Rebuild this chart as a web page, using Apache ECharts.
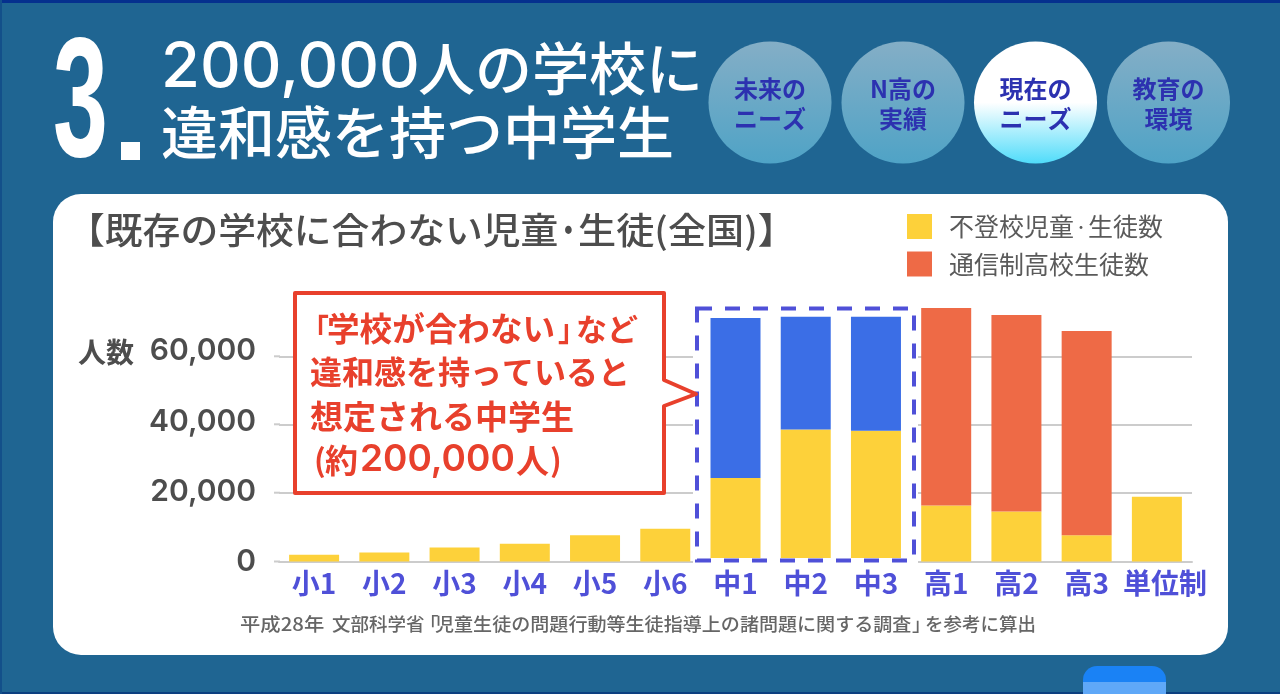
<!DOCTYPE html>
<html><head><meta charset="utf-8">
<script src="https://cdn.jsdelivr.net/npm/echarts@6/dist/echarts.min.js"></script>
<style>html,body{margin:0;padding:0;background:#1f6592;overflow:hidden}#c{width:1280px;height:694px}</style>
</head><body><div id="c"></div>
<script>
const categories=['小1','小2','小3','小4','小5','小6','中1','中2','中3','高1','高2','高3','単位制'];
const absentees=[1950,2630,4100,5170,7700,9560,24400,38600,38200,16400,14600,7700,18950];
const juniorHigh=[null,null,null,null,null,null,46800,33000,33400,null,null,null,null];
const correspondence=[null,null,null,null,null,null,null,null,null,57700,57500,59700,null];
const yTicks=[0,20000,40000,60000];

const JP='"Noto Sans CJK JP"';
const t=(text,x,y,size,fill,weight,sx,family,align)=>({type:'text',z:20,x,y,scaleX:sx||1,silent:true,
  style:{text,fill,font:`${weight||400} ${size}px ${family||JP}`,textAlign:align||'left',textVerticalAlign:'middle'}});
const rect=(x,y,w,h,fill,r,z)=>({type:'rect',z:z==null?20:z,silent:true,shape:{x,y,width:w,height:h,r:r||0},style:{fill}});
const grad=(a,b,mid)=>({type:'linear',x:0,y:0,x2:0,y2:1,colorStops:mid?[{offset:0,color:a},{offset:.5,color:a},{offset:1,color:b}]:[{offset:0,color:a},{offset:1,color:b}]});
const circle=(cx,fill,l1,l2)=>[
  {type:'ellipse',z:20,silent:true,shape:{cx,cy:102.5,rx:61.5,ry:61},style:{fill}},
  t(l1,cx,89,24,'#2c31b0',700,1,JP,'center'),t(l2,cx,119,24,'#2c31b0',700,1,JP,'center')];
const RED='#e8402c',BLUEPUR='#4f50d8',GRAY='#4d4d4d',NOTE='#666666';
const graphic=[
  rect(0,0,1280,3,'#05308e',0,-20),rect(0,692,1280,2,'#0c3f80',0,-20),rect(0,0,2,694,'#13508a',0,-20),
  rect(53,194,1175,461,'#ffffff',28,-10),
  rect(1083,666,83,28,'#1a82f5',[14,14,0,0],-5),rect(1083,682,83,12,'#5fa8f8',0,-5),
  t('3',53,109.5,170,'#ffffff',700,.58,'"Liberation Sans"'),
  rect(121,142,19,18,'#ffffff'),
  t('200,000',161,68,62,'#ffffff',500,1.02,'Inter'),
  t('人の学校に',418,68,57,'#ffffff',500),
  t('違和感を持つ中学生',161,132,57,'#ffffff',500),
  ...circle(770,grad('#84aec6','#4fa3c6'),'未来の','ニーズ'),
  ...circle(903,grad('#84aec6','#4fa3c6'),'N高の','実績'),
  ...circle(1035.5,grad('#ffffff','#50dcfa',true),'現在の','ニーズ'),
  ...circle(1168.5,grad('#84aec6','#4fa3c6'),'教育の','環境'),
  t('【既存の学校に合わない児童',67,230,36,GRAY,500,1.05),
  t('・',554,230,36,GRAY,500,.8),
  t('生徒(全国)】',578,230,36,GRAY,500,1.06),
  t('人数',78,352,28,GRAY,700),
  t('平成28年',240,624,18.5,NOTE,500,1.1),
  t('文部科学省',332,624,18.5,NOTE,500),
  t('「',420,624,18.5,NOTE,500),
  t('児童生徒の問題行動等生徒指導上の諸問題に関する調査',435,624,18.5,NOTE,500,1.03),
  t('」',912,624,18.5,NOTE,500),
  t('を参考に算出',925,624,18.5,NOTE,500),
  ...[356.3,424.3,492.7,561.5].map(y=>({type:'line',z:0,silent:true,shape:{x1:274,y1:y,x2:280,y2:y},style:{stroke:'#cccccc',lineWidth:2}})),
  // dashed emphasis box
  {type:'rect',z:1,silent:true,shape:{x:693,y:304,width:225,height:261},style:{fill:'#ffffff'}},
  {type:'rect',z:15,silent:true,shape:{x:697,y:308.5,width:217,height:252},style:{fill:'none',stroke:'#ffffff',lineWidth:5}},
  {type:'rect',z:16,silent:true,shape:{x:697,y:308.5,width:217,height:252},style:{fill:'none',stroke:BLUEPUR,lineWidth:4,lineDash:[15,13]}},
  // callout
  {type:'polygon',z:18,silent:true,shape:{points:[[295,293],[664,293],[664,380],[696,394],[664,406],[664,493],[295,493]]},
   style:{fill:'#ffffff',stroke:RED,lineWidth:4,lineJoin:'round'}},
  t('「',301,329,31,RED,700,.9),
  t('学校が合わない',327,329,32.6,RED,700),
  t('」',558,329,31,RED,700,.9),
  t('など',576,329,31,RED,700),
  t('違和感を持っていると',310,372,32,RED,700),
  t('想定される中学生',310,416,33,RED,700),
  t('(',314,460,31,RED,700),
  t('約',325,460,33,RED,700),
  t('200,000',360,460,37,RED,600,1,'Inter'),
  t('人',516,460,33,RED,700),
  t(')',550,460,31,RED,700)
];
const seriesOf=(name,data,color)=>({name,type:'bar',stack:'n',barWidth:50,data,itemStyle:{color},silent:true,z:2});
const yRich=b=>({fontSize:30,fontWeight:600,color:GRAY,fontFamily:'Inter',padding:[0,0,b,0]});
const xStyle={color:BLUEPUR,fontSize:28,fontWeight:700,fontFamily:JP};
const legendA={fontSize:25,color:'#5a5a5a',fontFamily:JP};
const option={
  animation:false,
  backgroundColor:'#1f6592',
  textStyle:{fontFamily:JP},
  grid:{left:279,width:913,top:287.9,height:273.6,containLabel:false},
  legend:{left:907,top:214,padding:0,orient:'vertical',itemWidth:25,itemHeight:25,itemGap:12.5,icon:'rect',
    data:['不登校児童・生徒数','通信制高校生徒数'],selectedMode:false,z:20,
    formatter:n=>n.includes('・')?n.split('・').map(s=>`{a|${s}}`).join('{b|・}'):`{a|${n}}`,
    textStyle:{...legendA,padding:[0,0,0,12],rich:{a:legendA,b:{...legendA,fontSize:14}}}},
  xAxis:{type:'category',data:categories,axisTick:{show:false},
    axisLine:{lineStyle:{color:'#cccccc',width:2}},
    axisLabel:{...xStyle,margin:8,interval:0,
      formatter:v=>v==='単位制'?`{u|${v}}`:v,rich:{u:{...xStyle,padding:[0,0,0,16]}}}},
  yAxis:{type:'value',min:0,max:80000,interval:20000,axisLine:{show:false},axisTick:{show:false},
    splitLine:{showMaxLine:false,lineStyle:{color:'#cccccc',width:2}},
    axisLabel:{margin:23,fontSize:30,fontWeight:600,color:GRAY,fontFamily:'Inter',showMaxLabel:false,
      formatter:v=>yTicks.includes(v)?`{y${v}|${v.toLocaleString('en-US')}}`:'',
      rich:{y0:yRich(0),y20000:yRich(2),y40000:yRich(5),y60000:yRich(11)}}},
  series:[seriesOf('不登校児童・生徒数',absentees,'#fdd13a'),seriesOf('中学生',juniorHigh,'#3b6ee6'),seriesOf('通信制高校生徒数',correspondence,'#ee6a46')],
  graphic:{elements:graphic}
};
echarts.init(document.getElementById('c')).setOption(option);
</script></body></html>
